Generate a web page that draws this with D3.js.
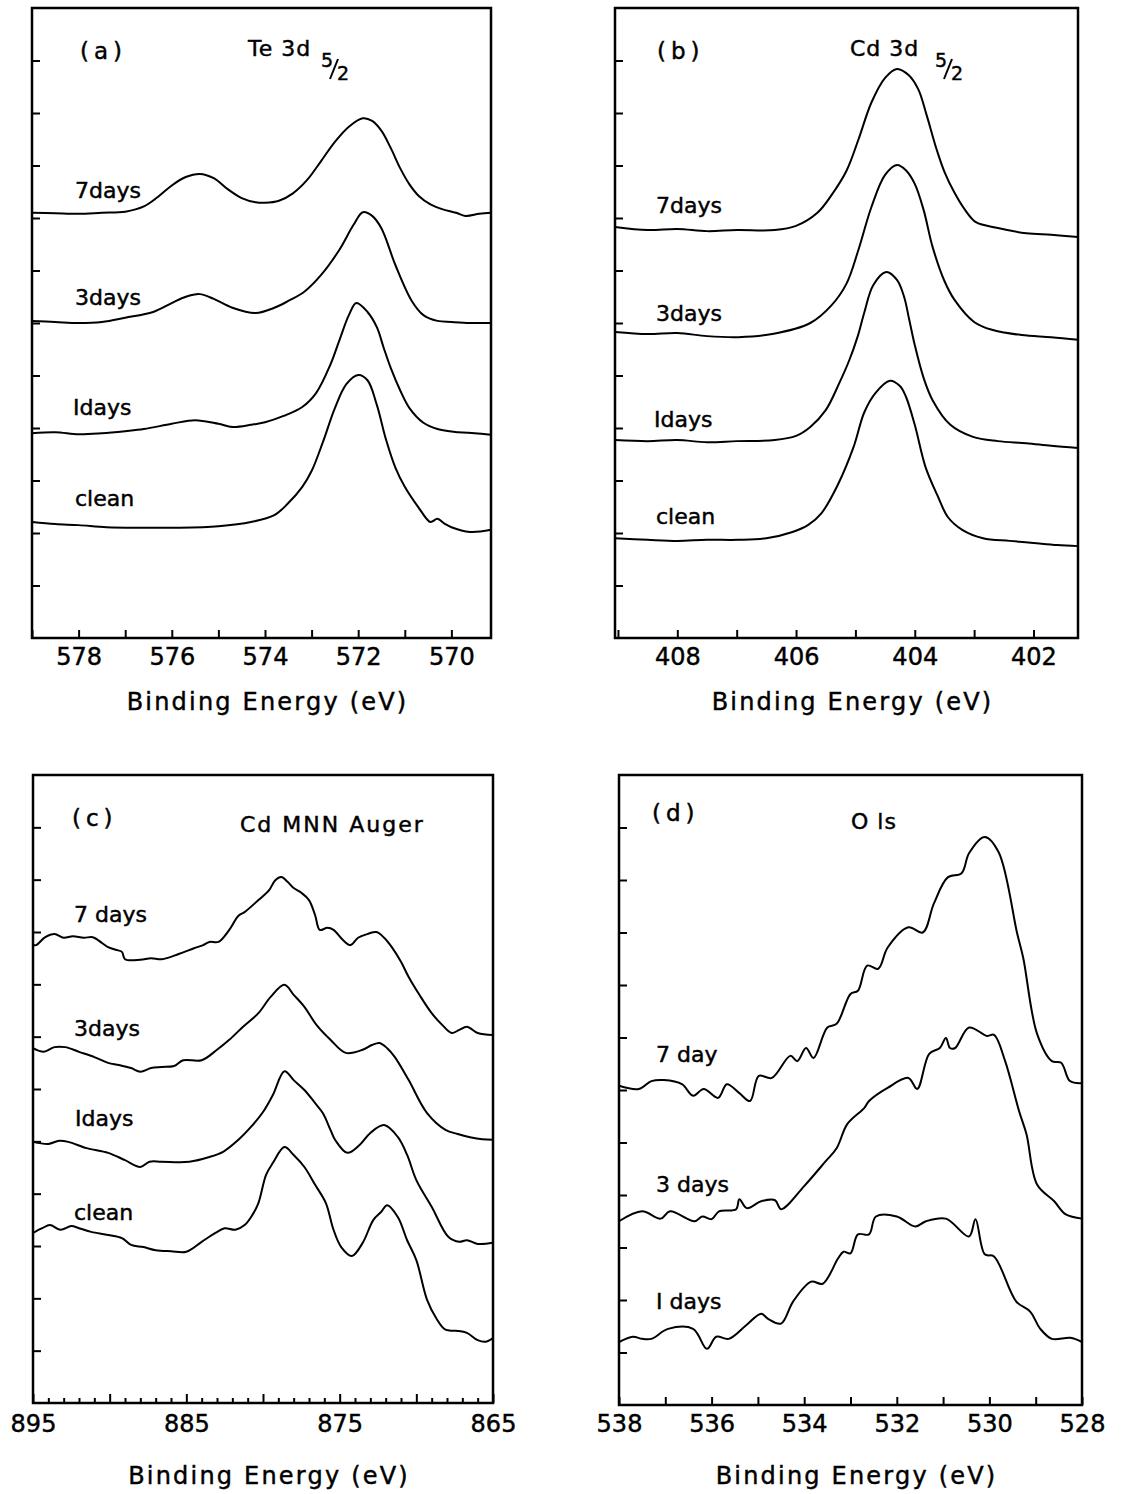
<!DOCTYPE html>
<html>
<head>
<meta charset="utf-8">
<script src="https://cdn.jsdelivr.net/npm/d3@7/dist/d3.min.js"></script>
<style>
  body { margin: 0; background: #fff; }
  svg text { font-family: "DejaVu Sans", sans-serif; fill: #000; stroke: #000; stroke-width: 0.45px; }
</style>
</head>
<body>
<div id="vis"></div>
<script>
var W = 1121, H = 1494;

// ---- data: [binding energy (eV), intensity (arb., 1 unit = 1 tick)] ----
// (a) Te 3d5/2
var te7days = [[579,8.10],[578.5,8.09],[578,8.08],[577.5,8.10],[577,8.12],[576.6,8.22],[576.3,8.40],[576,8.62],[575.7,8.78],[575.4,8.84],[575.1,8.76],[574.8,8.55],[574.5,8.38],[574.2,8.30],[574,8.29],[573.7,8.33],[573.4,8.47],[573.1,8.72],[572.8,9.08],[572.5,9.45],[572.2,9.74],[571.9,9.90],[571.7,9.85],[571.5,9.66],[571.3,9.33],[571.1,8.95],[570.9,8.64],[570.7,8.42],[570.45,8.26],[570.2,8.17],[569.9,8.10],[569.7,8.04],[569.4,8.08],[569.15,8.10]];
var te3days = [[579,6.04],[578.5,6.02],[578,6.00],[577.5,6.02],[577,6.10],[576.4,6.21],[576,6.38],[575.7,6.50],[575.4,6.55],[575.1,6.46],[574.7,6.29],[574.2,6.19],[573.8,6.29],[573.5,6.42],[573.15,6.60],[572.8,6.91],[572.4,7.40],[572.1,7.87],[571.9,8.11],[571.7,8.04],[571.5,7.80],[571.2,7.10],[570.85,6.42],[570.6,6.15],[570.3,6.04],[570,6.02],[569.6,6.00],[569.15,6.00]];
var te1days = [[579,3.90],[578.5,3.92],[578,3.88],[577.5,3.90],[577,3.94],[576.6,3.98],[576,4.08],[575.5,4.15],[575,4.08],[574.7,4.02],[574.3,4.06],[574,4.11],[573.6,4.23],[573.2,4.40],[572.9,4.67],[572.6,5.20],[572.4,5.68],[572.2,6.15],[572.04,6.38],[571.8,6.21],[571.6,5.92],[571.45,5.52],[571.3,5.14],[571.1,4.72],[570.9,4.38],[570.6,4.10],[570.3,3.98],[569.85,3.92],[569.5,3.90],[569.15,3.87]];
var teClean = [[579,2.21],[578.5,2.17],[578,2.15],[577.4,2.11],[576.6,2.10],[575.85,2.10],[575,2.13],[574.3,2.21],[573.8,2.34],[573.5,2.57],[573.2,2.88],[573,3.18],[572.75,3.75],[572.5,4.38],[572.25,4.84],[572,5.01],[571.8,4.91],[571.6,4.44],[571.4,3.77],[571.2,3.24],[571,2.88],[570.7,2.48],[570.45,2.21],[570.3,2.27],[570.15,2.18],[570,2.11],[569.6,2.02],[569.15,2.06]];

// (b) Cd 3d5/2
var cd7days = [[409.05,7.83],[408.5,7.77],[408,7.79],[407.5,7.75],[407,7.77],[406.36,7.77],[406,7.85],[405.64,8.10],[405.4,8.44],[405.15,8.90],[404.95,9.49],[404.73,10.20],[404.5,10.67],[404.3,10.84],[404.1,10.72],[403.94,10.45],[403.8,9.96],[403.63,9.30],[403.5,8.88],[403.33,8.48],[403.15,8.15],[402.97,7.92],[402.6,7.81],[402.12,7.71],[401.7,7.68],[401.25,7.64]];
var cd3days = [[409.05,5.83],[408.5,5.79],[408,5.81],[407.5,5.75],[406.97,5.73],[406.4,5.79],[405.76,6.00],[405.4,6.34],[405.15,6.75],[404.95,7.39],[404.73,8.21],[404.5,8.82],[404.3,9.01],[404.15,8.91],[404,8.65],[403.85,8.15],[403.7,7.45],[403.5,6.80],[403.33,6.44],[403,6.02],[402.7,5.87],[402.2,5.77],[401.7,5.73],[401.25,5.68]];
var cd1days = [[409.05,3.77],[408.5,3.75],[408,3.77],[407.5,3.73],[407,3.75],[406.36,3.77],[406,3.85],[405.76,4.02],[405.5,4.34],[405.27,4.86],[405.1,5.30],[404.96,5.75],[404.85,6.20],[404.7,6.72],[404.48,6.97],[404.3,6.82],[404.18,6.50],[404.1,6.10],[404,5.58],[403.85,4.95],[403.7,4.53],[403.4,4.06],[403.02,3.83],[402.6,3.75],[402.12,3.71],[401.7,3.66],[401.25,3.62]];
var cdClean = [[409.05,1.90],[408.5,1.87],[408,1.85],[407.5,1.87],[406.97,1.87],[406.5,1.90],[406.06,2.02],[405.8,2.15],[405.57,2.38],[405.3,2.91],[405.03,3.64],[404.85,4.30],[404.66,4.67],[404.42,4.90],[404.25,4.80],[404.15,4.60],[404,4.06],[403.82,3.26],[403.62,2.72],[403.44,2.30],[403.2,2.06],[402.85,1.90],[402.4,1.85],[402,1.81],[401.6,1.77],[401.25,1.75]];

// (c) Cd MNN Auger
var aug7days = [[895,8.75],[894.8,8.75],[894.2,8.90],[893.6,8.96],[893,8.89],[892.4,8.92],[891.7,8.89],[891.1,8.90],[890.5,8.79],[890.1,8.71],[889.6,8.66],[889.2,8.62],[889,8.48],[888,8.47],[887.3,8.50],[886.6,8.48],[885.5,8.58],[884.5,8.69],[883.9,8.75],[883.5,8.81],[882.9,8.81],[882.2,9.04],[881.6,9.31],[881.2,9.38],[880.3,9.61],[879.6,9.80],[879.2,9.99],[878.8,10.05],[878.4,9.96],[878,9.84],[877.5,9.75],[877,9.61],[876.6,9.32],[876.3,9.04],[875.8,9.08],[875.4,9.04],[874.8,8.85],[874.3,8.75],[873.8,8.89],[873.2,8.96],[872.6,9.00],[872.1,8.89],[871.6,8.71],[871,8.43],[870.5,8.14],[869.8,7.80],[869,7.45],[868.3,7.22],[867.7,7.07],[867.2,7.13],[866.7,7.19],[866,7.07],[865,7.03]];
var aug3days = [[895,6.78],[894.3,6.71],[893.6,6.80],[892.9,6.80],[892,6.71],[891,6.61],[890.1,6.50],[889.4,6.46],[888.6,6.40],[888,6.33],[887.3,6.40],[886.6,6.42],[885.8,6.44],[885.2,6.55],[884,6.55],[883,6.75],[882.2,6.94],[881.3,7.19],[880.3,7.45],[879.5,7.76],[878.6,7.99],[878,7.80],[877.3,7.57],[876.5,7.22],[875.6,6.94],[874.6,6.69],[873.5,6.75],[872.9,6.84],[872.4,6.88],[871.9,6.78],[871.4,6.61],[870.5,6.17],[869.3,5.54],[868.1,5.22],[867.3,5.14],[866.5,5.08],[865.7,5.04],[865,5.03]];
var aug1days = [[895,4.99],[894,4.95],[893.3,5.01],[892.7,4.99],[891.5,4.87],[890.1,4.78],[889,4.64],[888,4.51],[887.4,4.61],[886.6,4.61],[884.8,4.61],[883.5,4.70],[882.6,4.80],[881.6,5.03],[880.8,5.27],[880,5.56],[879.35,5.89],[878.6,6.34],[878,6.17],[877.3,5.98],[876.6,5.73],[876.1,5.54],[875.6,5.22],[875.3,5.03],[874.5,4.78],[873.7,4.93],[873,5.16],[872.1,5.31],[871.2,5.08],[870.6,4.74],[870,4.26],[869,3.75],[867.9,3.17],[867.2,3.08],[866.7,3.11],[866,3.04],[865,3.06]];
var augClean = [[895,3.25],[894.4,3.34],[893.9,3.40],[893.2,3.31],[892.5,3.38],[892,3.34],[891.2,3.27],[890.1,3.21],[889.2,3.15],[888.6,3.02],[887.8,2.98],[887,2.92],[886,2.90],[885,2.89],[884,3.08],[883.1,3.25],[882.5,3.34],[881.8,3.31],[881.2,3.40],[880.7,3.59],[880.3,3.82],[879.8,4.36],[879.35,4.59],[878.6,4.89],[878,4.74],[877.3,4.51],[876.6,4.17],[875.9,3.82],[875.4,3.31],[874.9,2.98],[874.2,2.81],[873.5,3.06],[872.8,3.50],[872.3,3.65],[871.9,3.78],[871.2,3.55],[870.6,3.11],[870,2.73],[869.3,1.97],[868.7,1.62],[868.1,1.40],[867.4,1.38],[866.7,1.34],[866,1.20],[865.5,1.17],[865,1.24]];

// (d) O 1s
var ox7day = [[538,6.08],[537.57,6.02],[537.3,6.17],[537.03,6.19],[536.64,6.11],[536.4,5.89],[536.17,6.02],[535.86,5.85],[535.67,6.11],[535.4,5.94],[535.17,5.79],[534.98,6.27],[534.7,6.23],[534.3,6.65],[534.15,6.55],[533.96,6.80],[533.8,6.61],[533.5,7.19],[533.3,7.26],[533,7.83],[532.84,7.89],[532.64,8.37],[532.4,8.31],[532.2,8.71],[531.75,9.10],[531.44,9.00],[531.2,9.55],[530.9,10.05],[530.6,10.13],[530.44,10.51],[530.1,10.82],[529.8,10.53],[529.4,8.98],[529.27,8.52],[528.97,7.07],[528.65,6.55],[528.45,6.52],[528.26,6.17],[528,6.13]];
var ox3days = [[538,3.50],[537.5,3.69],[537.1,3.55],[536.9,3.69],[536.37,3.50],[536.2,3.59],[536,3.54],[535.84,3.69],[535.47,3.73],[535.4,3.92],[535.24,3.75],[534.93,3.88],[534.63,3.90],[534.5,3.73],[534,4.17],[533.54,4.64],[533.3,4.89],[533.07,5.35],[532.7,5.66],[532.6,5.79],[532.2,6.04],[531.75,6.23],[531.56,6.02],[531.3,6.69],[531.07,6.80],[530.94,6.99],[530.85,6.80],[530.74,6.80],[530.44,7.19],[530.05,7.03],[529.9,7.05],[529.66,6.55],[529.36,5.60],[529.2,5.16],[528.97,4.20],[528.6,3.88],[528.35,3.63],[528,3.55]];
var ox1days = [[538,1.20],[537.7,1.30],[537.5,1.26],[537.3,1.26],[536.94,1.45],[536.4,1.45],[536.1,1.07],[535.9,1.30],[535.63,1.26],[535.24,1.53],[534.93,1.74],[534.78,1.64],[534.5,1.55],[534.24,1.97],[533.85,2.35],[533.6,2.31],[533.27,2.79],[533.15,2.92],[533,2.89],[532.84,3.25],[532.6,3.25],[532.45,3.59],[532,3.59],[531.6,3.40],[531.37,3.50],[530.94,3.55],[530.44,3.21],[530.3,3.54],[530.1,2.87],[529.9,2.83],[529.42,1.97],[529.12,1.78],[528.9,1.45],[528.65,1.26],[528.25,1.28],[528,1.20]];

// tick labels
var teTicks = [578, 576, 574, 572, 570];
var cdTicks = [408, 406, 404, 402];
var augTicks = [895, 885, 875, 865];
var oxTicks = [538, 536, 534, 532, 530, 528];

var panels = [
  {id:"a", box:[32,491,8,638], dom:[579,569.15], major:teTicks,
   tag:"(a)", tagPos:[80,59], title:"Te 3d", titlePos:[248,56], sub:[321,337],
   series:[{d:te7days,l:"7days",p:[75,198]},{d:te3days,l:"3days",p:[75,305]},
           {d:te1days,l:"Idays",p:[73,415]},{d:teClean,l:"clean",p:[75,506]}]},
  {id:"b", box:[615,1078,8,638], dom:[409.05,401.25], major:cdTicks,
   tag:"(b)", tagPos:[657,59], title:"Cd 3d", titlePos:[850,56], sub:[935,951],
   series:[{d:cd7days,l:"7days",p:[656,213]},{d:cd3days,l:"3days",p:[656,321]},
           {d:cd1days,l:"Idays",p:[654,427]},{d:cdClean,l:"clean",p:[656,524]}]},
  {id:"c", box:[33,493,775,1403], dom:[895,865], major:augTicks,
   tag:"(c)", tagPos:[72,826], title:"Cd MNN Auger", titlePos:[240,832],
   series:[{d:aug7days,l:"7 days",p:[74,922]},{d:aug3days,l:"3days",p:[74,1036]},
           {d:aug1days,l:"Idays",p:[75,1126]},{d:augClean,l:"clean",p:[74,1220]}]},
  {id:"d", box:[619,1082,775,1405], dom:[538,528], major:oxTicks,
   tag:"(d)", tagPos:[652,821], title:"O ls", titlePos:[851,829],
   series:[{d:ox7day,l:"7 day",p:[656,1062]},{d:ox3days,l:"3 days",p:[656,1192]},
           {d:ox1days,l:"I days",p:[656,1309]}]}
];

var svg = d3.select("#vis").append("svg")
    .attr("width", W)
    .attr("height", H);

panels.forEach(function(P){
    var x0 = P.box[0], x1 = P.box[1], y0 = P.box[2], y1 = P.box[3];
    var x = d3.scaleLinear().domain(P.dom).range([x0, x1]);
    var y = d3.scaleLinear().domain([0, 12]).range([y1, y0]);
    var g = svg.append("g").attr("class", "panel-" + P.id);

    // bottom axis: a tick every eV, labels on the majors
    var lo = Math.ceil(Math.min(P.dom[0], P.dom[1])), hi = Math.floor(Math.max(P.dom[0], P.dom[1]));
    var dense = P.id == "c";
    var xAxis = d3.axisBottom(x)
        .tickValues(d3.range(lo, hi + 1))
        .tickSizeInner(dense ? -5 : -8)
        .tickSizeOuter(0)
        .tickPadding(dense ? 12 : 10)
        .tickFormat(function(d){ return P.major.indexOf(d) >= 0 ? d : ""; });
    var ax = g.append("g").attr("transform", "translate(0," + y1 + ")").call(xAxis);
    ax.select(".domain").remove();
    ax.selectAll(".tick line").attr("stroke", "#000").attr("stroke-width", 2);
    if (dense) {
        ax.selectAll(".tick line").filter(function(d){ return d % 5 == 0; }).attr("y2", -9);
    }
    ax.selectAll(".tick text").attr("font-size", 24).attr("fill", "#000")
        .style("font-family", "DejaVu Sans, sans-serif");

    // left axis: inward ticks, no labels
    var yAxis = d3.axisLeft(y).tickValues(d3.range(1, 12)).tickSizeInner(-8).tickSizeOuter(0).tickFormat("");
    var ay = g.append("g").attr("transform", "translate(" + x0 + ",0)").call(yAxis);
    ay.select(".domain").remove();
    ay.selectAll(".tick line").attr("stroke", "#000").attr("stroke-width", 2);

    // frame
    g.append("rect")
        .attr("x", x0).attr("y", y0)
        .attr("width", x1 - x0).attr("height", y1 - y0)
        .attr("fill", "none").attr("stroke", "#000").attr("stroke-width", 2.5);

    // traces
    var line = d3.line()
        .x(function(d){ return x(d[0]); })
        .y(function(d){ return y(d[1]); })
        .curve(d3.curveCatmullRom.alpha(0.5));
    g.selectAll("path.trace")
        .data(P.series)
        .enter().append("path")
        .attr("class", "trace")
        .attr("d", function(s){ return line(s.d); })
        .attr("fill", "none")
        .attr("stroke", "#000")
        .attr("stroke-width", 2)
        .attr("stroke-linejoin", "round");

    g.selectAll("text.lab")
        .data(P.series)
        .enter().append("text")
        .attr("class", "lab")
        .attr("x", function(s){ return s.p[0]; })
        .attr("y", function(s){ return s.p[1]; })
        .attr("font-size", 22)
        .text(function(s){ return s.l; });

    g.append("text").attr("x", P.tagPos[0]).attr("y", P.tagPos[1])
        .attr("font-size", 23).attr("letter-spacing", 5).text(P.tag);
    g.append("text").attr("x", P.titlePos[0]).attr("y", P.titlePos[1])
        .attr("font-size", 22).attr("letter-spacing", P.id == "c" ? 2 : 1).text(P.title);

    // 5/2 subscript: "5" up-left, "2" down-right, slash between
    if (P.sub) {
        var sx = P.sub[0], sx2 = P.sub[1], by = P.titlePos[1];
        g.append("text").attr("x", sx).attr("y", by + 11).attr("font-size", 19).text("5");
        g.append("text").attr("x", sx2).attr("y", by + 24).attr("font-size", 19).text("2");
        g.append("path")
            .attr("d", "M" + (sx + 9) + "," + (by + 23) + " L" + (sx + 17) + "," + (by + 3))
            .attr("stroke", "#000").attr("stroke-width", 2).attr("fill", "none");
    }

    g.append("text")
        .attr("x", (x0 + x1) / 2 + 6)
        .attr("y", P.id == "a" || P.id == "b" ? 710 : 1484)
        .attr("text-anchor", "middle")
        .attr("font-size", 24)
        .attr("letter-spacing", 2.2)
        .text("Binding Energy (eV)");
});
</script>
</body>
</html>
